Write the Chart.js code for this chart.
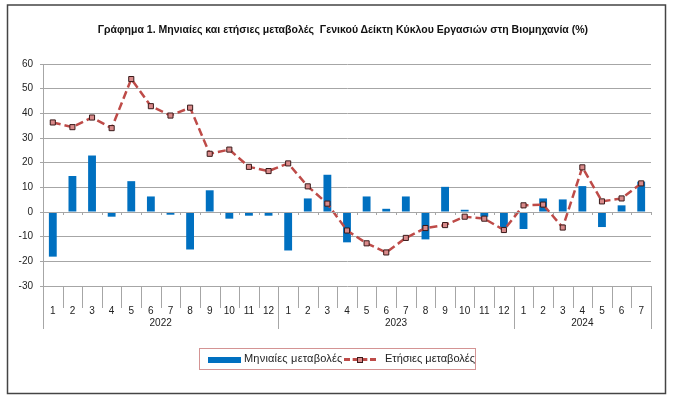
<!DOCTYPE html>
<html>
<head>
<meta charset="utf-8">
<script src="https://cdn.jsdelivr.net/npm/chart.js@4.4.1/dist/chart.umd.min.js"></script>
<style>
  body { margin: 0; background: #fff; }
  #wrap { position: relative; width: 676px; height: 396px; }
  #chart { position: absolute; left: 0; top: 0; }
  #title {
    position: absolute; left: 0; width: 686px; top: 23px; text-align: center;
    font: bold 11.5px "Liberation Sans", sans-serif; color: #111;
  }
  #title span { display: inline-block; transform: scaleX(0.915); white-space: nowrap; }
  #legend {
    position: absolute; left: 199px; top: 348px; width: 275px; height: 20px;
    border: 1px solid #d49494; font: 11px "Liberation Sans", sans-serif; color: #222;
    overflow: hidden; white-space: nowrap;
  }
  #legend .sw-bar { position: absolute; left: 8px; top: 8px; width: 33px; height: 6px; background: #0070c0; }
  #legend .t1 { position: absolute; left: 44px; top: 3px; letter-spacing: 0.2px; }
  #legend .sw-line { position: absolute; left: 144px; top: 9px; width: 32px; border-top: 3px dashed #be4b48; }
  #legend .sw-pt { position: absolute; left: 157px; top: 8px; width: 4px; height: 4px; background: #d98a8a; border: 1px solid #3a1a1a; }
  #legend .t2 { position: absolute; left: 185px; top: 3px; }
</style>
</head>
<body>
<div id="wrap">
  <canvas id="chart" width="676" height="396"></canvas>
  <div id="title"><span>Γράφημα 1. Μηνιαίες και ετήσιες μεταβολές&nbsp; Γενικού Δείκτη Κύκλου Εργασιών στη Βιομηχανία (%)</span></div>
  <div id="legend">
    <span class="sw-bar"></span><span class="t1">Μηνιαίες μεταβολές</span>
    <span class="sw-line"></span><span class="sw-pt"></span><span class="t2">Ετήσιες μεταβολές</span>
  </div>
</div>
<script>
const months = ['1','2','3','4','5','6','7','8','9','10','11','12',
                '1','2','3','4','5','6','7','8','9','10','11','12',
                '1','2','3','4','5','6','7'];
const years = ['2022', '2023', '2024'];
const yearCounts = [12, 12, 7];

// Μηνιαίες μεταβολές
const monthly = [-18.1, 14.6, 22.9, -1.9, 12.5, 6.3, -1.1, -15.2, 8.8, -2.7, -1.5, -1.5,
                 -15.6, 5.5, 15.1, -12.3, 6.3, 1.3, 6.3, -11.1, 10.2, 0.9, -1.9, -6.2,
                 -6.9, 5.5, 5.1, 10.5, -6.1, 2.7, 12.3];
// Ετήσιες μεταβολές
const annual = [36.3, 34.4, 38.3, 34.0, 53.9, 42.9, 39.1, 42.3, 23.6, 25.3, 18.3, 16.6,
                19.7, 10.4, 3.4, -7.5, -12.7, -16.4, -10.5, -6.5, -5.3, -1.9, -2.7, -7.3,
                2.7, 3.0, -6.3, 18.1, 4.3, 5.5, 11.6];

const yTicks = { min: -30, max: 60, step: 10 };

const gridColor = '#a6a6a6';
const tickFont = { family: 'Liberation Sans', size: 10 };

// draws the month/year dividers, year labels and the outer frame
const decorations = {
    id: 'decorations',
    afterDraw(chart) {
        const ctx = chart.ctx;
        const x = chart.scales.x;
        const y = chart.scales.y;
        const n = months.length;
        const catW = (x.right - x.left) / n;
        const bottom = y.bottom;
        const zero = y.getPixelForValue(0);

        const bounds = [0];
        yearCounts.forEach(c => bounds.push(bounds[bounds.length - 1] + c));

        ctx.save();
        ctx.strokeStyle = gridColor;
        ctx.lineWidth = 1;
        for (let i = 0; i <= n; i++) {
            const px = Math.round(x.left + i * catW) + 0.5;
            const isYear = bounds.includes(i);
            ctx.beginPath();
            ctx.moveTo(px, bottom);
            ctx.lineTo(px, bottom + (isYear ? 43 : 22));
            ctx.stroke();
            // small ticks on the zero line
            ctx.beginPath();
            ctx.moveTo(px, zero);
            ctx.lineTo(px, zero + 3);
            ctx.stroke();
        }
        ctx.beginPath();
        ctx.moveTo(x.left, Math.round(zero) + 0.5);
        ctx.lineTo(x.right, Math.round(zero) + 0.5);
        ctx.stroke();

        ctx.fillStyle = '#222';
        ctx.font = '10px "Liberation Sans"';
        ctx.textAlign = 'center';
        ctx.textBaseline = 'middle';
        years.forEach((yr, k) => {
            const cx = x.left + (bounds[k] + bounds[k + 1]) / 2 * catW;
            ctx.fillText(yr, cx, bottom + 37);
        });

        // outer frame
        ctx.strokeStyle = '#444';
        ctx.lineWidth = 1.5;
        ctx.strokeRect(7.5, 5, 658, 388.5);
        ctx.restore();
    }
};

new Chart(document.getElementById('chart'), {
    type: 'bar',
    data: {
        labels: months,
        datasets: [
            {
                type: 'line',
                label: 'Ετήσιες μεταβολές',
                data: annual,
                borderColor: '#be4b48',
                borderWidth: 2.5,
                borderDash: [8, 4],
                pointStyle: 'rect',
                pointRadius: 3.6,
                pointBackgroundColor: '#d98a8a',
                pointBorderColor: '#3a1a1a',
                pointBorderWidth: 1,
                tension: 0,
                order: 0
            },
            {
                label: 'Μηνιαίες μεταβολές',
                data: monthly,
                backgroundColor: '#0070c0',
                categoryPercentage: 1,
                barPercentage: 0.4,
                order: 1
            }
        ]
    },
    options: {
        responsive: false,
        animation: false,
        layout: { padding: { left: 0, right: 25, top: 64, bottom: 0 } },
        plugins: {
            legend: { display: false },
            title: { display: false },
            tooltip: { enabled: false }
        },
        scales: {
            x: {
                grid: { display: false },
                border: { display: false },
                ticks: { font: tickFont, color: '#222', padding: 11, maxRotation: 0, autoSkip: false },
                afterFit(scale) { scale.height = 110; }
            },
            y: {
                min: yTicks.min,
                max: yTicks.max,
                ticks: { stepSize: yTicks.step, font: tickFont, color: '#222', padding: 7 },
                grid: { color: gridColor, tickLength: 3 },
                border: { display: true, color: gridColor },
                afterFit(scale) { scale.width = 43; }
            }
        }
    },
    plugins: [decorations]
});
</script>
</body>
</html>
